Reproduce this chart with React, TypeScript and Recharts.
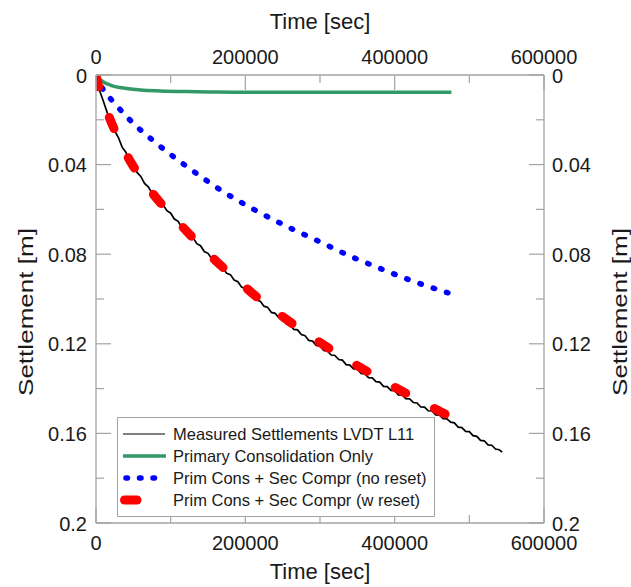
import React from 'react';
import { LineChart, Line, XAxis, YAxis, Legend } from 'recharts';

const FONT = '"Liberation Sans", Arial, Helvetica, sans-serif';
const AXIS_GRAY = '#a3a3a3';

// Tick values and labels
const timeTicks = [0, 100000, 200000, 300000, 400000, 500000, 600000];
const timeTickLabels = ['0', '', '200000', '', '400000', '', '600000'];
const settlementTicks = [0, 0.02, 0.04, 0.06, 0.08, 0.1, 0.12, 0.14, 0.16, 0.18, 0.2];
const settlementTickLabels = ['0', '', '0.04', '', '0.08', '', '0.12', '', '0.16', '', '0.2'];

// Series names
const seriesNames = [
  'Measured Settlements LVDT L11',
  'Primary Consolidation Only',
  'Prim Cons + Sec Compr (no reset)',
  'Prim Cons + Sec Compr (w reset)',
];

// Measured settlements (LVDT L11)
const measuredTime = [
  0, 5000, 10000, 15000, 20000, 25000, 30000, 35000, 40000, 45000,
  50000, 55000, 60000, 65000, 70000, 75000, 80000, 85000, 90000, 95000,
  100000, 105000, 110000, 115000, 120000, 125000, 130000, 135000, 140000, 145000,
  150000, 155000, 160000, 165000, 170000, 175000, 180000, 185000, 190000, 195000,
  200000, 205000, 210000, 215000, 220000, 225000, 230000, 235000, 240000, 245000,
  250000, 255000, 260000, 265000, 270000, 275000, 280000, 285000, 290000, 295000,
  300000, 305000, 310000, 315000, 320000, 325000, 330000, 335000, 340000, 345000,
  350000, 355000, 360000, 365000, 370000, 375000, 380000, 385000, 390000, 395000,
  400000, 405000, 410000, 415000, 420000, 425000, 430000, 435000, 440000, 445000,
  450000, 455000, 460000, 465000, 470000, 475000, 480000, 485000, 490000, 495000,
  500000, 505000, 510000, 515000, 520000, 525000, 530000, 535000, 540000, 544000,
];
const measuredSettlement = [
  0, 0.0072, 0.0118, 0.0168, 0.0203, 0.0249, 0.0279, 0.0322, 0.0345, 0.0381,
  0.0404, 0.0435, 0.0453, 0.0484, 0.0499, 0.0527, 0.0542, 0.0570, 0.0581, 0.0606,
  0.0617, 0.0643, 0.0653, 0.0681, 0.0691, 0.0717, 0.0726, 0.0753, 0.0762, 0.0788,
  0.0796, 0.0820, 0.0830, 0.0855, 0.0862, 0.0885, 0.0891, 0.0915, 0.0923, 0.0947,
  0.0954, 0.0976, 0.0983, 0.1005, 0.1010, 0.1032, 0.1038, 0.1060, 0.1064, 0.1084,
  0.1090, 0.1112, 0.1116, 0.1136, 0.1138, 0.1159, 0.1164, 0.1185, 0.1188, 0.1207,
  0.1210, 0.1230, 0.1233, 0.1250, 0.1252, 0.1270, 0.1273, 0.1293, 0.1295, 0.1312,
  0.1313, 0.1332, 0.1334, 0.1351, 0.1352, 0.1369, 0.1371, 0.1390, 0.1391, 0.1408,
  0.1409, 0.1428, 0.1429, 0.1445, 0.1446, 0.1462, 0.1464, 0.1482, 0.1483, 0.1499,
  0.1500, 0.1517, 0.1518, 0.1534, 0.1535, 0.1550, 0.1553, 0.1572, 0.1574, 0.1591,
  0.1592, 0.1610, 0.1613, 0.1631, 0.1633, 0.1651, 0.1653, 0.1670, 0.1673, 0.1684,
];

// Primary consolidation only
const primaryTime = [0, 3000, 9400, 20000, 41000, 60000, 86000, 120000, 160000, 220000, 300000, 400000, 476000];
const primarySettlement = [0, 0.0013, 0.0030, 0.0046, 0.0060, 0.0067, 0.0071, 0.0074, 0.0076, 0.0077, 0.0077, 0.0077, 0.0077];

// Prim Cons + Sec Compr (no reset)
const noResetTime = [0, 10000, 23000, 50000, 81000, 128000, 170000, 213000, 260000, 300000, 340000, 380000, 420000, 474000];
const noResetSettlement = [0, 0.0067, 0.0119, 0.0216, 0.0305, 0.0424, 0.0520, 0.0603, 0.0683, 0.0745, 0.0808, 0.0863, 0.0915, 0.0975];

// Prim Cons + Sec Compr (w reset)
const resetTime = [0, 3000, 10000, 22000, 35000, 49000, 65000, 84000, 100000, 130000, 160000, 190000, 215000, 250000, 280000, 310000, 340000, 375000, 410000, 440000, 477000];
const resetSettlement = [0, 0.0045, 0.0120, 0.0223, 0.0318, 0.0402, 0.0480, 0.0562, 0.0620, 0.0728, 0.0828, 0.0918, 0.0990, 0.1079, 0.1150, 0.1216, 0.1278, 0.1346, 0.1412, 0.1466, 0.1530];

const toData = (ts: number[], ss: number[]) => ts.map((t, i) => ({ t, s: ss[i] }));
const measuredData = toData(measuredTime, measuredSettlement);
const primaryData = toData(primaryTime, primarySettlement);
const noResetData = toData(noResetTime, noResetSettlement);
const resetData = toData(resetTime, resetSettlement);

const timeLabel = (v: number) => {
  const i = timeTicks.indexOf(v);
  return i >= 0 ? timeTickLabels[i] : '';
};
const settlementLabel = (v: number) => {
  const i = settlementTicks.findIndex((x) => Math.abs(x - v) < 1e-9);
  return i >= 0 ? settlementTickLabels[i] : '';
};

const XTick = (side: 'top' | 'bottom') => (props: any) => {
  const { x, y, payload } = props;
  const label = timeLabel(payload.value);
  const len = label ? 15 : 8;
  const dir = side === 'top' ? 1 : -1;
  return (
    <g>
      <line x1={x} y1={y} x2={x} y2={y + dir * len} stroke={AXIS_GRAY} strokeWidth={1.2} />
      {label ? (
        <text x={x} y={side === 'top' ? y - 11 : y + 27} textAnchor="middle" fontSize={20} fontFamily={FONT} fill="#1a1a1a">
          {label}
        </text>
      ) : null}
    </g>
  );
};

const YTick = (side: 'left' | 'right') => (props: any) => {
  const { x, y, payload } = props;
  const label = settlementLabel(payload.value);
  const len = label ? 15 : 8;
  const dir = side === 'left' ? 1 : -1;
  return (
    <g>
      <line x1={x} y1={y} x2={x + dir * len} y2={y} stroke={AXIS_GRAY} strokeWidth={1.2} />
      {label ? (
        <text
          x={side === 'left' ? x - 9 : x + 8}
          y={y + 7.5}
          textAnchor={side === 'left' ? 'end' : 'start'}
          fontSize={20}
          fontFamily={FONT}
          fill="#1a1a1a"
        >
          {label}
        </text>
      ) : null}
    </g>
  );
};

const XTitle = (baseline: number) => () => (
  <text x={320} y={baseline} textAnchor="middle" fontSize={22} fontFamily={FONT} fill="#1a1a1a">
    Time [sec]
  </text>
);

const YTitle = (cx: number) => () => (
  <text
    x={cx}
    y={312}
    transform={`rotate(-90, ${cx}, 312)`}
    textAnchor="middle"
    dominantBaseline="central"
    fontSize={21}
    fontFamily={FONT}
    fill="#1a1a1a"
    textLength={168}
    lengthAdjust="spacingAndGlyphs"
  >
    Settlement [m]
  </text>
);

const renderLegend = () => {
  const rowY = [17, 39, 61, 83];
  return (
    <svg width={320} height={102} style={{ display: 'block' }}>
      <rect x={0.5} y={0.5} width={317} height={99} fill="#ffffff" stroke={AXIS_GRAY} strokeWidth={1} />
      <line x1={6} y1={rowY[0]} x2={48} y2={rowY[0]} stroke="#000" strokeWidth={1} />
      <line x1={6} y1={rowY[1]} x2={49} y2={rowY[1]} stroke="#339966" strokeWidth={3.5} />
      <line x1={9} y1={rowY[2]} x2={40} y2={rowY[2]} stroke="#0000ff" strokeWidth={5.5} strokeDasharray="1.5 12" strokeLinecap="round" />
      <line x1={7.5} y1={rowY[3]} x2={20} y2={rowY[3]} stroke="#ff0000" strokeWidth={9} strokeLinecap="round" />
      {seriesNames.map((n, i) => (
        <text key={n} x={56} y={rowY[i] + 6} fontSize={16.5} fontFamily={FONT} fill="#1a1a1a">
          {n}
        </text>
      ))}
    </svg>
  );
};

export default function App() {
  return (
    <div style={{ position: 'absolute', left: 0, top: 0, width: 631, height: 587, background: '#fff' }}>
      <LineChart width={631} height={587} margin={{ top: 0, right: 0, bottom: 0, left: 0 }}>
        <XAxis
          xAxisId="b"
          type="number"
          dataKey="t"
          orientation="bottom"
          domain={[0, 600000]}
          ticks={timeTicks}
          interval={0}
          height={64}
          tickSize={0}
          tickMargin={0}
          tickLine={false}
          axisLine={{ stroke: AXIS_GRAY, strokeWidth: 1.3 }}
          tick={XTick('bottom')}
          label={{ content: XTitle(579) }}
          allowDataOverflow
        />
        <XAxis
          xAxisId="t"
          type="number"
          dataKey="t"
          orientation="top"
          domain={[0, 600000]}
          ticks={timeTicks}
          interval={0}
          height={75}
          tickSize={0}
          tickMargin={0}
          tickLine={false}
          axisLine={{ stroke: AXIS_GRAY, strokeWidth: 1.3 }}
          tick={XTick('top')}
          label={{ content: XTitle(29) }}
          allowDataOverflow
        />
        <YAxis
          yAxisId="l"
          type="number"
          orientation="left"
          domain={[0, 0.2]}
          reversed
          ticks={settlementTicks}
          interval={0}
          width={96}
          tickSize={0}
          tickMargin={0}
          tickLine={false}
          axisLine={{ stroke: AXIS_GRAY, strokeWidth: 1.3 }}
          tick={YTick('left')}
          label={{ content: YTitle(25) }}
          allowDataOverflow
        />
        <YAxis
          yAxisId="r"
          type="number"
          orientation="right"
          domain={[0, 0.2]}
          reversed
          ticks={settlementTicks}
          interval={0}
          width={87}
          tickSize={0}
          tickMargin={0}
          tickLine={false}
          axisLine={{ stroke: AXIS_GRAY, strokeWidth: 1.3 }}
          tick={YTick('right')}
          label={{ content: YTitle(619) }}
          allowDataOverflow
        />
        <Legend
          layout="horizontal"
          verticalAlign="middle"
          align="center"
          content={renderLegend}
          wrapperStyle={{ left: 117, top: 417, width: 320, height: 102 }}
        />
        <Line
          xAxisId="b"
          yAxisId="l"
          data={measuredData}
          dataKey="s"
          name={seriesNames[0]}
          type="linear"
          stroke="#000000"
          strokeWidth={1.7}
          dot={false}
          isAnimationActive={false}
        />
        <Line
          xAxisId="b"
          yAxisId="l"
          data={primaryData}
          dataKey="s"
          name={seriesNames[1]}
          type="monotone"
          stroke="#339966"
          strokeWidth={3.5}
          dot={false}
          isAnimationActive={false}
        />
        <Line
          xAxisId="b"
          yAxisId="l"
          data={noResetData}
          dataKey="s"
          name={seriesNames[2]}
          type="monotone"
          stroke="#0000ff"
          strokeWidth={5.5}
          strokeDasharray="1.5 12.5"
          strokeLinecap="round"
          dot={false}
          isAnimationActive={false}
        />
        <Line
          xAxisId="b"
          yAxisId="l"
          data={resetData}
          dataKey="s"
          name={seriesNames[3]}
          type="monotone"
          stroke="#ff0000"
          strokeWidth={9}
          strokeDasharray="12 32.5"
          strokeLinecap="round"
          dot={false}
          isAnimationActive={false}
        />
      </LineChart>
    </div>
  );
}
